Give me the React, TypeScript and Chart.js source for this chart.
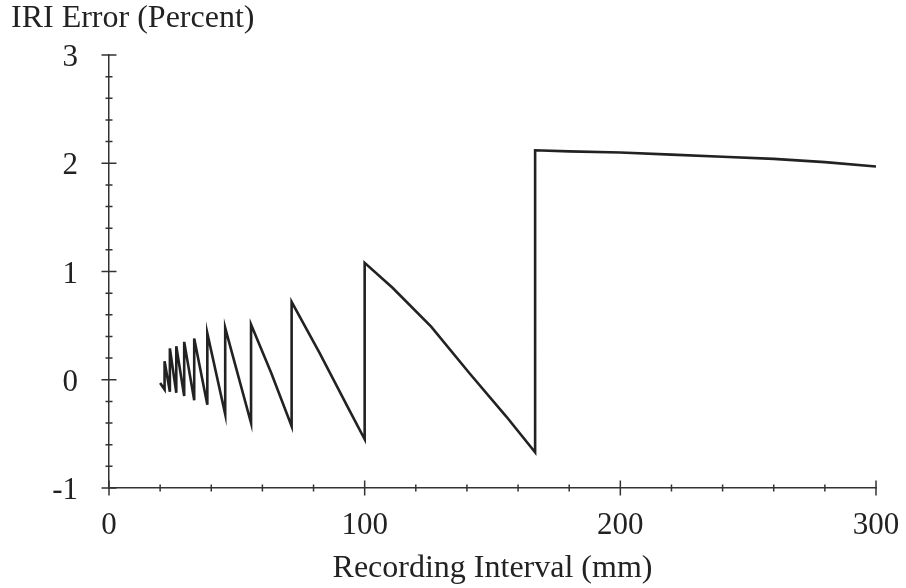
import React, { useEffect, useRef } from "react";
import { Chart, registerables } from "chart.js";

Chart.register(...registerables);

// Recording interval (mm) and IRI error (percent)
const intervalMm = [
  20, 21.74, 21.74, 23.81, 23.81, 26.32, 26.32, 29.41, 29.41, 33.33, 33.33,
  38.46, 38.46, 45.45, 45.45, 55.56, 55.56, 63.5, 71.43, 71.43, 82.3, 94, 100,
  100, 110.9, 126, 141, 155.4, 166.67, 166.67, 180, 200, 220, 240, 260, 280, 300,
];
const iriErrorPct = [
  -0.03, -0.09, 0.17, -0.11, 0.29, -0.12, 0.31, -0.15, 0.35, -0.19, 0.38,
  -0.23, 0.43, -0.32, 0.48, -0.4, 0.51, 0.06, -0.43, 0.72, 0.25, -0.28, -0.55,
  1.08, 0.85, 0.49, 0.06, -0.34, -0.67, 2.12, 2.11, 2.1, 2.08, 2.06, 2.04,
  2.01, 1.97,
];

const xMajorTicks = [0, 100, 200, 300];
const xMinorTicks = [20, 40, 60, 80, 120, 140, 160, 180, 220, 240, 260, 280];
const yMajorTicks = [-1, 0, 1, 2, 3];
const yMinorTicks = [
  -0.8, -0.6, -0.4, -0.2, 0.2, 0.4, 0.6, 0.8, 1.2, 1.4, 1.6, 1.8, 2.2, 2.4,
  2.6, 2.8,
];

const yTitle = "IRI Error (Percent)";
const xTitle = "Recording Interval (mm)";

const FONT = "'Liberation Serif', 'Times New Roman', serif";
const INK = "#222";

const crossTicks = {
  id: "crossTicks",
  afterDraw(chart: any) {
    const { ctx, scales } = chart;
    const xs = scales.x;
    const ys = scales.y;
    const axisY = ys.getPixelForValue(yMajorTicks[0]);
    const axisX = xs.getPixelForValue(xMajorTicks[0]);
    ctx.save();
    ctx.strokeStyle = "#333";
    ctx.lineWidth = 1.5;
    ctx.beginPath();
    const xt = (vals: number[], h: number) => {
      vals.forEach((v) => {
        const px = xs.getPixelForValue(v);
        ctx.moveTo(px, axisY - h);
        ctx.lineTo(px, axisY + h);
      });
    };
    const yt = (vals: number[], h: number) => {
      vals.forEach((v) => {
        const py = ys.getPixelForValue(v);
        ctx.moveTo(axisX - h, py);
        ctx.lineTo(axisX + h, py);
      });
    };
    xt(xMajorTicks, 7.5);
    xt(xMinorTicks, 3.5);
    yt(yMajorTicks, 7.5);
    yt(yMinorTicks, 3.5);
    ctx.stroke();
    ctx.restore();
  },
};

export default function App() {
  const ref = useRef<HTMLCanvasElement | null>(null);

  useEffect(() => {
    if (!ref.current) return;
    const points = intervalMm.map((x, i) => ({ x, y: iriErrorPct[i] }));
    const chart = new Chart(ref.current, {
      type: "scatter",
      data: {
        datasets: [
          {
            data: points,
            showLine: true,
            borderColor: INK,
            borderWidth: 2.6,
            pointRadius: 0,
            tension: 0,
            fill: false,
          },
        ],
      },
      options: {
        responsive: false,
        animation: false,
        events: [],
        layout: { padding: { left: 11, right: 30, top: 0, bottom: 0 } },
        plugins: {
          legend: { display: false },
          tooltip: { enabled: false },
          title: {
            display: true,
            text: yTitle,
            align: "start",
            color: INK,
            font: { family: FONT, size: 32, weight: "normal", lineHeight: 1 },
            padding: { top: 3, bottom: 20 },
          },
        },
        scales: {
          x: {
            type: "linear",
            min: xMajorTicks[0],
            max: xMajorTicks[xMajorTicks.length - 1],
            afterBuildTicks: (s: any) => {
              s.ticks = xMajorTicks.map((v) => ({ value: v }));
            },
            afterFit: (s: any) => {
              s.height = 100;
              s.paddingLeft = 0;
              s.paddingRight = 0;
            },
            grid: { display: false, drawTicks: false },
            border: { display: true, color: "#333", width: 1.5 },
            ticks: {
              color: INK,
              font: { family: FONT, size: 31 },
              padding: 19,
              maxRotation: 0,
              callback: (v: any) => String(v),
            },
            title: {
              display: true,
              text: xTitle,
              color: INK,
              font: { family: FONT, size: 32 },
              padding: { top: 0, bottom: 0 },
            },
          },
          y: {
            type: "linear",
            min: yMajorTicks[0],
            max: yMajorTicks[yMajorTicks.length - 1],
            afterBuildTicks: (s: any) => {
              s.ticks = yMajorTicks.map((v) => ({ value: v }));
            },
            afterFit: (s: any) => {
              s.width = 98;
            },
            grid: { display: false, drawTicks: false },
            border: { display: true, color: "#333", width: 1.5 },
            ticks: {
              color: INK,
              font: { family: FONT, size: 31 },
              padding: 31,
              labelOffset: 3,
              callback: (v: any) => String(v),
            },
          },
        },
      },
      plugins: [crossTicks],
    });
    return () => chart.destroy();
  }, []);

  return (
    <div style={{ position: "absolute", left: 0, top: 0, width: 906, height: 588, background: "#fff" }}>
      <canvas ref={ref} width={906} height={588} style={{ display: "block" }} />
    </div>
  );
}
